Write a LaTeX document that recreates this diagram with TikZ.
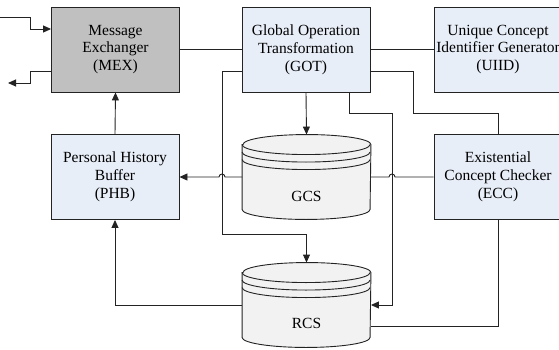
\documentclass[tikz,border=0pt]{standalone}
\usepackage{fontspec}
\setmainfont{Liberation Serif}
\usetikzlibrary{arrows.meta}

\definecolor{boxblue}{RGB}{232,238,248}
\definecolor{mexgray}{RGB}{192,192,192}
\definecolor{storegray}{RGB}{242,242,242}
\definecolor{edgegray}{RGB}{35,35,35}

% cylinder outline round a store node
\newcommand\datastore[1]{%
  \filldraw[draw=edgegray,fill=storegray] (#1.north west) -- (#1.south west)
    arc[start angle=180,end angle=360,x radius=64pt,y radius=10pt] -- (#1.north east)
    arc[start angle=0,end angle=180,x radius=64pt,y radius=10pt] -- cycle;
  \foreach \dy in {0,7.5,15}
    \draw[edgegray] ([yshift=-\dy pt]#1.north west)
      arc[start angle=180,end angle=360,x radius=64pt,y radius=10pt];
}

\begin{document}
\begin{tikzpicture}[x=1pt,y=-1pt,line width=0.9pt,
    block/.style={draw=edgegray,fill=boxblue,minimum width=128pt,minimum height=85pt,
                  inner sep=0pt,align=center,font=\fontsize{15.5}{17.8}\selectfont},
    store/.style={minimum width=128pt,minimum height=64pt,inner sep=0pt,
                  font=\fontsize{15.5}{17.8}\selectfont},
    link/.style={draw=edgegray},
    flow/.style={link,-{Triangle[length=8pt,width=7pt]}}]

  \useasboundingbox (0,0) rectangle (559,350);
  \clip (0,0) rectangle (559,350);

  % boxes
  \node[block,fill=mexgray] (MEX) at (115.5,49.5) {Message\\Exchanger\\(MEX)};
  \node[block] (GOT) at (306,49.5) {Global Operation\\Transformation\\(GOT)};
  \node[block] (UIID) at (498,49.5) {Unique Concept\\Identifier Generator\\(UIID)};
  \node[block] (PHB) at (115,177) {Personal History\\Buffer\\(PHB)};
  \node[block] (ECC) at (498,177) {Existential\\Concept Checker\\(ECC)};

  % stores
  \node[store] (GCS) at (306.5,177) {};
  \datastore{GCS}
  \node[store] (GCS-t) at (306.5,196) {GCS};
  \node[store] (RCS) at (306.5,305) {};
  \datastore{RCS}
  \node[store] (RCS-t) at (306.5,323) {RCS};

  \coordinate (inL) at (0,17);
  \coordinate (outL) at (8,83);

  % connectors
  \draw[flow] (inL) -| (30,29) -- (MEX.west |- 0,29);
  \draw[flow] (MEX.west |- 0,71) -| (30,83) -- (outL);
  \draw[link] (MEX) -- (GOT);
  \draw[link] (GOT) -- (UIID);
  \draw[flow] (GOT.south) -- ([yshift=10pt]GCS.north);
  \draw[flow] (GOT.west |- 0,71) -| (222,234) -| ([yshift=10pt]RCS.north);
  \draw[flow] (349,0 |- GOT.south) |- (392,113) |- (RCS.east);
  \draw[link] (GOT.east |- 0,71) -| (413,113) -| (ECC.north);
  \draw[flow] (GCS.west) -- (225,177) arc[start angle=0,end angle=180,radius=3pt] -- (PHB.east);
  \draw[link] (ECC.west) -- (395,177) arc[start angle=0,end angle=180,radius=3pt] -- (GCS.east);
  \draw[flow] (PHB.north) -- (MEX.south);
  \draw[flow] (RCS.west) -| (PHB.south);
  \draw[link] (ECC.south) |- (RCS.east |- 0,326);

\end{tikzpicture}
\end{document}
